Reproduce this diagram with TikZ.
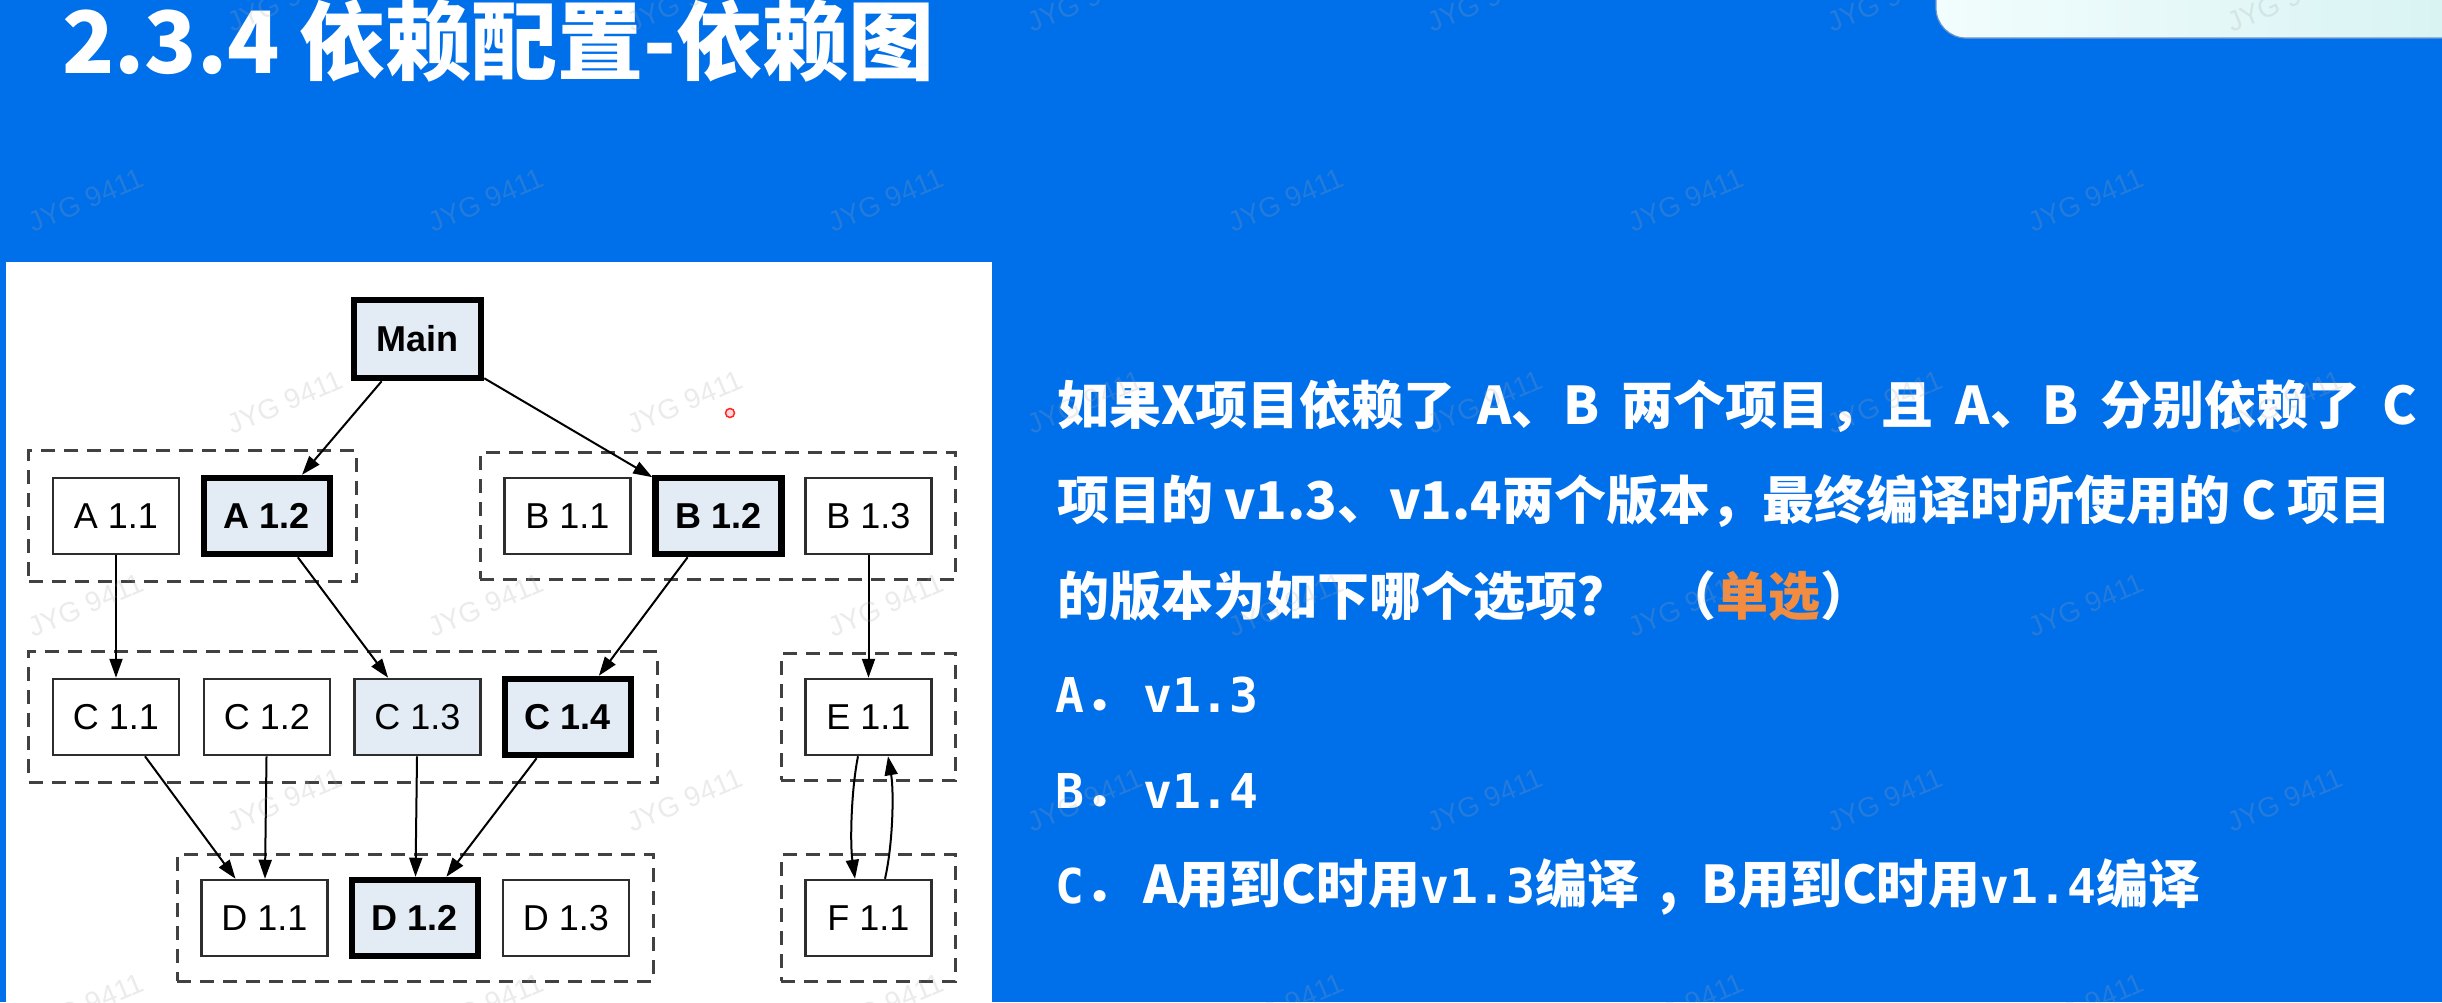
\documentclass[tikz,border=0pt]{standalone}
\usepackage{fontspec}
\setmainfont{Liberation Sans}
\newfontfamily\cjk{Noto Sans CJK SC}
\newfontfamily\mono{DejaVu Sans Mono}
\usetikzlibrary{arrows.meta,fit,calc}

\definecolor{slideblue}{RGB}{0,111,234}
\definecolor{verfill}{RGB}{227,235,245}
\definecolor{verline}{RGB}{45,45,45}
\definecolor{grpline}{RGB}{65,65,65}
\definecolor{pickorange}{RGB}{242,140,64}
\definecolor{tabL}{RGB}{242,253,253}
\definecolor{tabR}{RGB}{214,242,242}
\definecolor{tabEdge}{RGB}{110,150,205}

% Chinese run inside the monospaced answer lines
\newcommand\zhtext[1]{{\fontsize{52}{52}\cjk #1}}
% question font with wider word spaces
\newcommand\questionfont{\fontsize{52}{52}\cjk\bfseries\spaceskip 22pt\relax}

\tikzset{
  ver/.style={draw=verline, line width=2.5pt, fill=white,
    minimum width=126pt, minimum height=76pt, inner sep=0pt,
    font=\fontsize{36}{36}\selectfont},
  chosen/.style={ver, draw=black, line width=6.5pt, fill=verfill,
    font=\fontsize{36}{36}\selectfont\bfseries},
  used/.style={ver, fill=verfill},
  grp/.style={draw=grpline, line width=3pt, dash pattern=on 14pt off 9pt,
    inner xsep=23pt, inner ysep=24pt},
  dep/.style={draw=black, line width=2pt, -{Triangle[length=19pt,width=13pt]}},
  slidetext/.style={anchor=base west, text=white, inner sep=0pt,
    font=\questionfont},
  opttext/.style={anchor=base west, text=white, inner sep=0pt,
    font=\fontsize{48}{48}\mono\bfseries},
  wmark/.style={text=black!35, text opacity=0.22, rotate=23, inner sep=0pt,
    font=\fontsize{28}{28}\selectfont},
}

\begin{document}
\begin{tikzpicture}[x=1pt,y=-1pt]
\useasboundingbox (0,0) rectangle (2442,1002);
\fill[slideblue] (0,0) rectangle (2442,1002);

% tab in the upper right corner
\shade[left color=tabL, right color=tabR, draw=tabEdge, line width=1.2pt,
  rounded corners=30pt] (1936,-60) rectangle (2500,38);

% title
\node[anchor=base west, text=white, inner sep=0pt,
  font=\fontsize{86}{86}\cjk\bfseries] (title) at (62,73) {2.3.4 依赖配置-依赖图};

% white panel holding the graph
\fill[white] (6,262) rectangle (992,1010);

% versions
\node[chosen, minimum width=127pt, minimum height=78pt] (main) at (417.5,339) {Main};

\node[ver]    (a11) at (116,516)   {A 1.1};
\node[chosen] (a12) at (267,516)   {A 1.2};
\node[ver]    (b11) at (567.5,516) {B 1.1};
\node[chosen] (b12) at (718.5,516) {B 1.2};
\node[ver]    (b13) at (868.5,516) {B 1.3};

\node[ver]    (c11) at (116,717)   {C 1.1};
\node[ver]    (c12) at (267,717)   {C 1.2};
\node[used]   (c13) at (417.5,717) {C 1.3};
\node[chosen] (c14) at (568,717)   {C 1.4};
\node[ver]    (e11) at (868.5,717) {E 1.1};

\node[ver]    (d11) at (264.5,918) {D 1.1};
\node[chosen] (d12) at (415,918)   {D 1.2};
\node[ver]    (d13) at (566,918)   {D 1.3};
\node[ver]    (f11) at (868.5,918) {F 1.1};

% artifact groups
\node[grp, fit=(a11)(a12)] (ga) {};
\node[grp, fit=(b11)(b13)] (gb) {};
\node[grp, fit=(c11)(c14)] (gc) {};
\node[grp, fit=(e11)] (ge) {};
\node[grp, fit=(d11)(d13)] (gd) {};
\node[grp, fit=(f11)] (gf) {};

% dependencies
\draw[dep] (main) -- (a12);
\draw[dep] (main) -- (b12);
\draw[dep] (a11) -- (c11);
\draw[dep] (a12) -- (c13);
\draw[dep] (b12) -- (c14);
\draw[dep] (b13) -- (e11);
\draw[dep] (c11) -- (d11);
\draw[dep] (c12) -- (d11);
\draw[dep] (c13) -- (d12);
\draw[dep] (c14) -- (d12);
\draw[dep] ($(e11.south)+(-10.5,0)$) .. controls +(-7,35) and +(-5,-35) .. ($(f11.north)+(-13.5,0)$);
\draw[dep] ($(f11.north)+(16.5,0)$) .. controls +(8,-35) and +(6,35) .. ($(e11.south)+(19.5,0)$);

% pointer mark
\draw[red!85, line width=1.5pt, fill=red!15] (730,413) circle (4.5);

% question
\node[slidetext] (q1) at (1057,424) {如果X项目依赖了 A、B 两个项目，且 A、B 分别依赖了 C};
\node[slidetext] (q2) at (1057,519) {\spaceskip=11pt\relax 项目的 v1.3、v1.4两个版本，最终编译时所使用的 C 项目};
\node[slidetext] (q3) at (1057,615) {的版本为如下哪个选项？\hspace{35pt}（{\color{pickorange}单选}）};

% answers
\node[opttext] (oa) at (1055,712) {A\zhtext{．}\hspace{7pt}v1.3};
\node[opttext] (ob) at (1055,808) {B\zhtext{．}\hspace{7pt}v1.4};
\node[opttext] (oc) at (1055,903) {C\zhtext{．}\hspace{7pt}\zhtext{A用到C时用}v1.3\zhtext{编译\hspace{20pt},\hspace{24pt}B用到C时用}v1.4\zhtext{编译}};

% watermark lattice
\foreach \r/\y/\x in {0/0/285, 1/200/86, 2/402/285, 3/605/86, 4/800/285, 5/1005/86}{
  \foreach \k in {0,...,5}{
    \node[wmark] (wm-\r-\k) at (\x+400*\k,\y) {JYG 9411};
  }
}
\end{tikzpicture}
\end{document}
